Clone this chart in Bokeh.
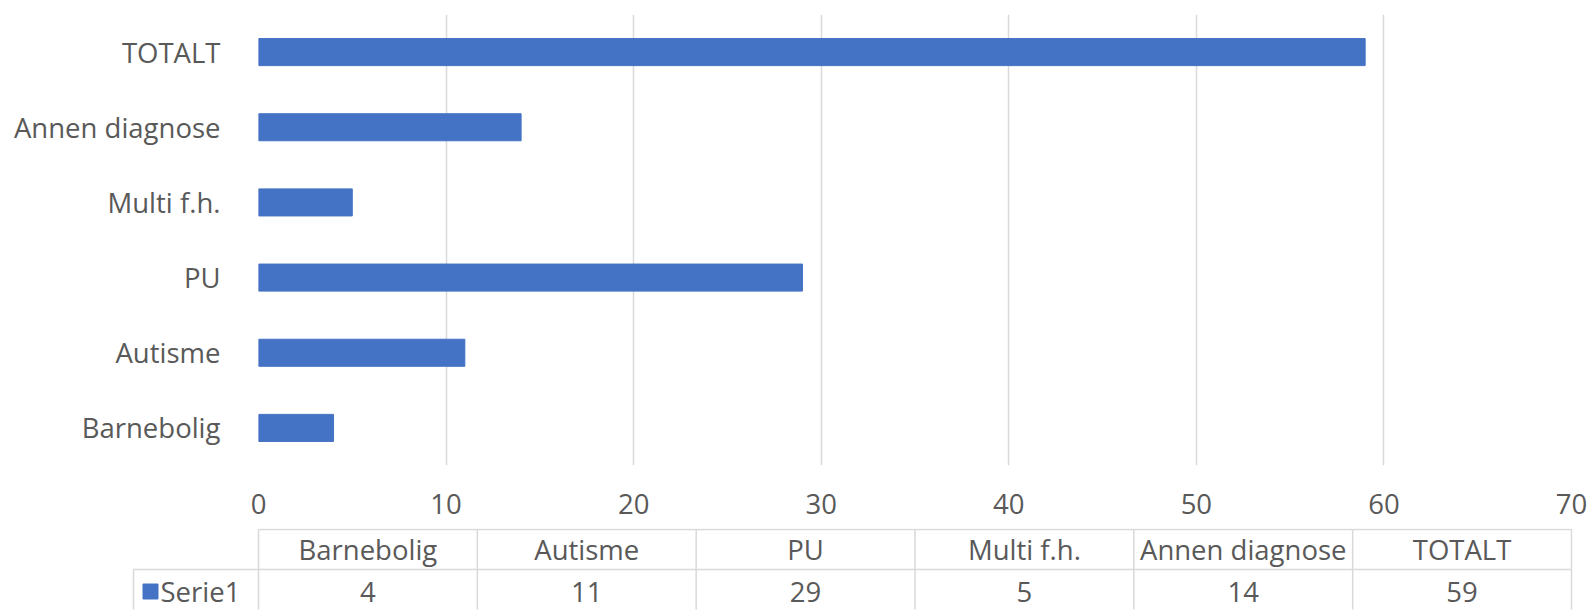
from bokeh.plotting import figure
from bokeh.models import FixedTicker, Range1d, FactorRange, ColumnDataSource
from bokeh.layouts import column
from bokeh.embed import file_html
from bokeh.resources import INLINE
from bokeh.core.properties import value

# ---- data ----
categories = ["Barnebolig", "Autisme", "PU", "Multi f.h.", "Annen diagnose", "TOTALT"]
values = [4, 11, 29, 5, 14, 59]
series_name = "Serie1"
x_ticks = [0, 10, 20, 30, 40, 50, 60, 70]
x_max = 70

# ---- style ----
FONT = "Open Sans"
TXT = "#595959"
GRID = "#d9d9d9"
BAR = "#4472C4"
FS = "27.5px"

W = 1588
LEFT = 258
RIGHT = 17
FRAME_W = W - LEFT - RIGHT
PX = FRAME_W / x_max  # pixels per unit

p = figure(width=W, height=528, y_range=FactorRange(*categories),
           x_range=Range1d(0, x_max), output_backend="svg", toolbar_location=None,
           min_border_left=LEFT, min_border_right=RIGHT, min_border_top=14,
           min_border_bottom=63)
src = ColumnDataSource(dict(cat=categories, val=values))
p.hbar(y="cat", right="val", height=0.36, left=0, source=src,
       fill_color=BAR, line_color=BAR)

p.xaxis.ticker = FixedTicker(ticks=x_ticks)
for ax in (p.xaxis, p.yaxis):
    ax.axis_line_color = None
    ax.major_tick_line_color = None
    ax.minor_tick_line_color = None
    ax.major_label_text_font = FONT
    ax.major_label_text_font_size = FS
    ax.major_label_text_color = TXT
p.xaxis.major_label_standoff = 22
p.yaxis.major_label_standoff = 32
p.xgrid.grid_line_color = GRID
p.xgrid.grid_line_width = 1.5
p.ygrid.grid_line_color = None
p.outline_line_color = None

# ---- data table below ----
T_LEFT = 128
T_RIGHT = 15
t_w_frame = W - T_LEFT - T_RIGHT
x_start = -(LEFT - T_LEFT) / PX
x_end = x_start + t_w_frame / PX
legend_left = -(LEFT - 133) / PX
t = figure(width=W, height=82, x_range=Range1d(x_start, x_end),
           y_range=Range1d(-0.025, 2.025), output_backend="svg",
           toolbar_location=None, min_border_left=T_LEFT, min_border_right=T_RIGHT,
           min_border_top=0, min_border_bottom=0)
t.axis.visible = False
t.grid.grid_line_color = None
t.outline_line_color = None

n = len(categories)
colw = x_max / n
bounds = [i * colw for i in range(n + 1)]
centers = [(i + 0.5) * colw for i in range(n)]

x0 = [0, legend_left] + bounds + [legend_left]
x1 = [x_max, x_max] + bounds + [legend_left]
y0 = [2, 1] + [0] * len(bounds) + [0]
y1 = [2, 1] + [2] * len(bounds) + [1]
t.segment(x0=x0, y0=y0, x1=x1, y1=y1, line_color=GRID, line_width=1.5)

t.text(x=centers, y=[1.5] * n, text=categories, text_align="center",
       text_baseline="middle", text_font=value(FONT), text_font_size=value(FS),
       text_color=TXT)
t.text(x=centers, y=[0.45] * n, text=[str(v) for v in values], text_align="center",
       text_baseline="middle", text_font=value(FONT), text_font_size=value(FS),
       text_color=TXT)
t.scatter(x=[legend_left + 17 / PX], y=[0.45], marker="square", size=15,
          fill_color=BAR, line_color=BAR)
t.text(x=[legend_left + 27 / PX], y=[0.45], text=[series_name], text_align="left",
       text_baseline="middle", text_font=value(FONT), text_font_size=value(FS),
       text_color=TXT)

layout = column(p, column(t, spacing=0), spacing=0)
open("out.html", "w").write(file_html(layout, INLINE))
